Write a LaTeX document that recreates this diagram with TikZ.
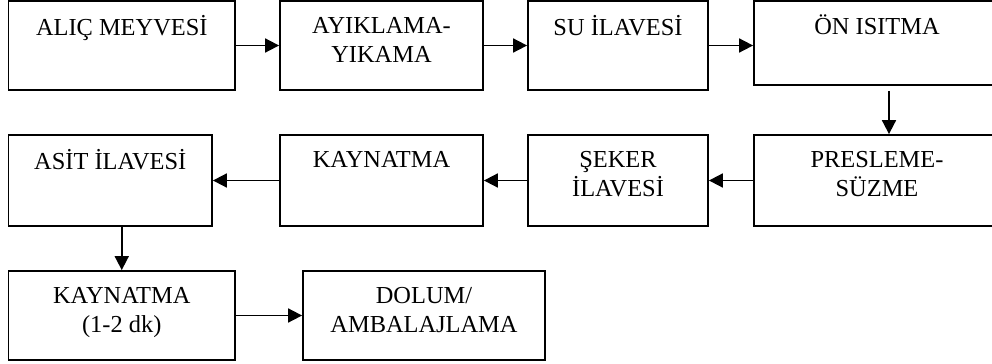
\documentclass[tikz,border=0pt]{standalone}
\usepackage{fontspec}
\setmainfont{Liberation Serif}
\usetikzlibrary{arrows.meta}

\begin{document}
\begin{tikzpicture}
[x=0.5pt,y=-0.5pt,%
  line width=0.9pt,>={Triangle[length=7pt,width=7pt]},%
  stepbox/.style={draw,line width=0.9pt,inner sep=0pt,align=center,%
    text depth=6pt,font=\fontsize{12.2}{14.5}\selectfont}]
\useasboundingbox (0,0) rectangle (992,364);
% first row
\node[stepbox,minimum width=113.25pt,minimum height=44.5pt] (alic) at (121.75,45.5) {ALIÇ MEYVESİ\\\mbox{}};
\node[stepbox,minimum width=101.5pt,minimum height=44.5pt] (ayik) at (381.5,45.5) {AYIKLAMA-\\YIKAMA};
\node[stepbox,minimum width=90pt,minimum height=44.5pt] (su) at (618,45.5) {SU İLAVESİ\\\mbox{}};
\node[stepbox,minimum width=123pt,minimum height=42pt,text depth=4pt] (on) at (877,43) {ÖN ISITMA\\\mbox{}};
% second row
\node[stepbox,minimum width=101.75pt,minimum height=45.5pt,text depth=7pt] (asit) at (110.25,180.5) {ASİT İLAVESİ\\\mbox{}};
\node[stepbox,minimum width=101.5pt,minimum height=45.5pt,text depth=7pt] (kayn1) at (381.5,180.5) {KAYNATMA\\\mbox{}};
\node[stepbox,minimum width=90pt,minimum height=45.5pt,text depth=7pt] (seker) at (618,180.5) {ŞEKER\\İLAVESİ};
\node[stepbox,minimum width=123pt,minimum height=45.5pt,text depth=7pt] (pres) at (877,180.5) {PRESLEME-\\SÜZME};
% third row
\node[stepbox,minimum width=113.25pt,minimum height=44.5pt] (kayn2) at (121.75,315.5) {KAYNATMA\\(1-2 dk)};
\node[stepbox,minimum width=121pt,minimum height=44.5pt] (dolum) at (424,315.5) {DOLUM/\\AMBALAJLAMA};
\draw[->] (alic.east) -- (ayik.west);
\draw[->] (ayik.east) -- (su.west);
\draw[->] (su.east) -- (su.east -| on.west);
\draw[->] ([xshift=6pt,yshift=-2.5pt]on.south) -- ([xshift=6pt]pres.north);
\draw[->] (pres.west) -- (seker.east);
\draw[->] (seker.west) -- (kayn1.east);
\draw[->] (kayn1.west) -- (asit.east);
\draw[->] (kayn2.north |- asit.south) -- (kayn2.north);
\draw[->] (kayn2.east) -- (dolum.west);
\end{tikzpicture}
\end{document}
